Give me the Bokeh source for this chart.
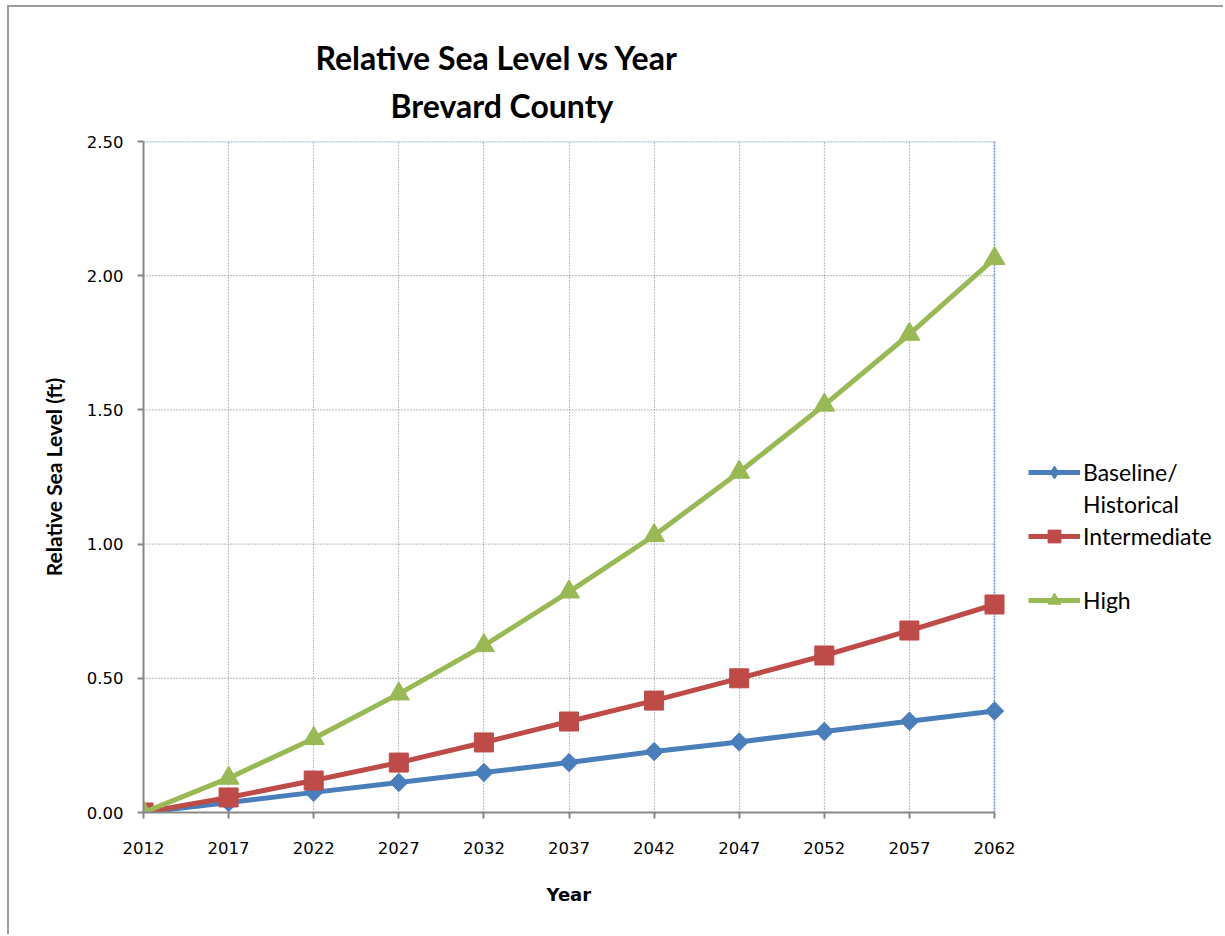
from bokeh.plotting import figure
from bokeh.models import Range1d, Legend, LegendItem, Title, FixedTicker, NumeralTickFormatter
from bokeh.embed import file_html
from bokeh.resources import INLINE

years = [2012, 2017, 2022, 2027, 2032, 2037, 2042, 2047, 2052, 2057, 2062]
baseline = [0.0, 0.037, 0.075, 0.112, 0.149, 0.186, 0.227, 0.263, 0.302, 0.340, 0.378]
intermediate = [0.0, 0.056, 0.119, 0.186, 0.261, 0.339, 0.417, 0.500, 0.585, 0.678, 0.775]
high = [0.0, 0.128, 0.276, 0.442, 0.622, 0.822, 1.032, 1.268, 1.518, 1.782, 2.064]
y_ticks = [0.0, 0.5, 1.0, 1.5, 2.0, 2.5]
y_grid_ticks = [0.5, 1.0, 1.5, 2.0]
title_lines = ["Relative Sea Level vs Year", "Brevard County"]
x_title = "Year"
y_title = "Relative Sea Level (ft)"
legend_labels = ["Baseline/", "Historical", "Intermediate", " ", "High"]

FONT = "Lato"
TICK_FONT = "DejaVu Sans"
BLUE = "#4a7ebb"
RED = "#be4b48"
GREEN = "#98b954"
BORDER_BLUE = "#6f8fc9"
GRID = "#8a8a8a"

x0, x1 = years[0], years[-1]
y0, y1 = y_ticks[0], y_ticks[-1]
# frame: 851 px for 50 years; extended to the canvas right edge to hold the legend
x_end = x1 + 231 / 851 * (x1 - x0)

p = figure(width=1216, height=929, output_backend="svg", toolbar_location=None,
           x_range=Range1d(x0, x_end), y_range=Range1d(y0, y1),
           min_border_left=134, min_border_right=0, min_border_top=134, min_border_bottom=124)
p.styles = {"margin-left": "7px", "margin-top": "5px",
            "border-left": "2px solid #9c9c9c", "border-top": "2px solid #9c9c9c"}
p.background_fill_color = "white"
p.border_fill_color = "white"
p.outline_line_color = None

for ax in (p.xaxis[0], p.yaxis[0]):
    ax.axis_line_color = "#888888"
    ax.axis_line_width = 2
    ax.major_tick_line_color = "#888888"
    ax.major_tick_line_width = 2
    ax.major_tick_out = 6
    ax.major_tick_in = 0
    ax.minor_tick_line_color = None
    ax.major_label_text_font = TICK_FONT
    ax.major_label_text_font_size = "16.5px"
    ax.major_label_text_color = "black"

p.xaxis.bounds = (x0, x1)
p.xaxis.ticker = FixedTicker(ticks=years)
p.yaxis.ticker = FixedTicker(ticks=y_ticks)
p.yaxis.formatter = NumeralTickFormatter(format="0.00")
p.yaxis.axis_label = y_title
p.yaxis.axis_label_text_font = FONT
p.yaxis.axis_label_text_font_style = "bold"
p.yaxis.axis_label_text_color = "black"
p.yaxis.axis_label_text_font_size = "21px"
p.xaxis.major_label_standoff = 23
p.yaxis.major_label_standoff = 14
p.yaxis.axis_label_standoff = 18

# x-axis title, centred under the data area (not the extended frame)
p.add_layout(Title(text=x_title, align="left", offset=403, standoff=50,
                   text_font=TICK_FONT, text_font_style="bold", text_font_size="18px",
                   text_color="black"), "below")

p.xgrid.ticker = FixedTicker(ticks=years[1:-1])
p.xgrid.grid_line_color = GRID
p.xgrid.grid_line_dash = "1 2"
p.xgrid.grid_line_width = 1.2
p.ygrid.visible = False
# horizontal grid lines limited to the data area
p.segment(x0=[x0] * len(y_grid_ticks), y0=y_grid_ticks, x1=[x1] * len(y_grid_ticks), y1=y_grid_ticks,
          line_color=GRID, line_dash="1 2", line_width=1.2)

# plot-area border (top and right) drawn as dotted blue segments
p.segment(x0=[x0, x1], y0=[y1, y0], x1=[x1, x1], y1=[y1, y1],
          line_color=BORDER_BLUE, line_dash="2 1", line_width=1.6)

r1 = p.line(years, baseline, line_color=BLUE, line_width=5)
m1 = p.scatter(years, baseline, marker="square", angle=0.785398, size=13,
               fill_color=BLUE, line_color=BLUE)
r2 = p.line(years, intermediate, line_color=RED, line_width=5)
m2 = p.scatter(years, intermediate, marker="square", size=19, fill_color=RED, line_color=RED)
r3 = p.line(years, high, line_color=GREEN, line_width=5)
m3 = p.scatter(years, high, marker="triangle", size=21, fill_color=GREEN, line_color=GREEN)
blank = p.line([], [], line_alpha=0)
lg_diamond = p.scatter(years, baseline, marker="diamond", fill_color=BLUE, line_color=BLUE,
                       visible=False)

legend = Legend(items=[LegendItem(label=legend_labels[0], renderers=[r1, lg_diamond]),
                       LegendItem(label=legend_labels[1], renderers=[blank]),
                       LegendItem(label=legend_labels[2], renderers=[r2, m2]),
                       LegendItem(label=legend_labels[3], renderers=[blank]),
                       LegendItem(label=legend_labels[4], renderers=[r3, m3])],
                location=(885, 196), orientation="vertical",
                glyph_width=52, glyph_height=32, label_height=24, spacing=0,
                label_standoff=3, padding=0, margin=0,
                border_line_color=None, background_fill_alpha=0,
                label_text_font=FONT, label_text_font_size="23px", label_text_color="black")
p.add_layout(legend)

t2 = Title(text=title_lines[1], align="left", offset=247, standoff=34,
           text_font=FONT, text_font_style="bold", text_font_size="32px", text_color="black")
t1 = Title(text=title_lines[0], align="left", offset=172, standoff=-20,
           text_font=FONT, text_font_style="bold", text_font_size="32px", text_color="black")
p.add_layout(t2, "above")
p.add_layout(t1, "above")

open("out.html", "w").write(file_html(p, INLINE))
